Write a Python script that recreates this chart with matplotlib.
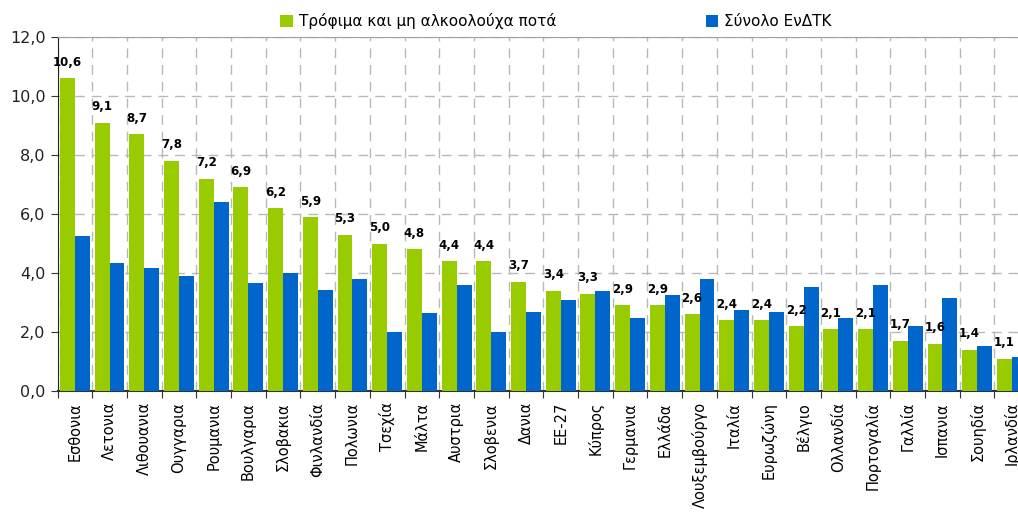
import numpy as np
import matplotlib
matplotlib.use("Agg")
import matplotlib.pyplot as plt

# κατηγορίες (χώρες) και τιμές των δύο σειρών
xores = ["Εσθονια", "Λετονια", "Λιθουανια", "Ουγγαρια", "Ρουμανια", "Βουλγαρια",
         "Σλοβακια", "Φινλανδία", "Πολωνια", "Τσεχία", "Μάλτα", "Αυστρια",
         "Σλοβενια", "Δανια", "ΕΕ-27", "Κύπρος", "Γερμανια", "Ελλάδα",
         "Λουξεμβούργο", "Ιταλία", "Ευρωζώνη", "Βέλγιο", "Ολλανδία",
         "Πορτογαλία", "Γαλλία", "Ισπανια", "Σουηδία", "Ιρλανδία"]
trofima = [10.6, 9.1, 8.7, 7.8, 7.2, 6.9, 6.2, 5.9, 5.3, 5.0, 4.8, 4.4, 4.4, 3.7,
           3.4, 3.3, 2.9, 2.9, 2.6, 2.4, 2.4, 2.2, 2.1, 2.1, 1.7, 1.6, 1.4, 1.1]
synolo = [5.25, 4.34, 4.17, 3.89, 6.39, 3.65, 4.0, 3.41, 3.79, 2.0, 2.66, 3.59,
          2.0, 2.69, 3.1, 3.38, 2.49, 3.24, 3.79, 2.76, 2.69, 3.52, 2.49, 3.59,
          2.22, 3.14, 1.53, 1.15]
yticks = [0, 2, 4, 6, 8, 10, 12]

green = "#99CC00"
blue = "#0066CC"

fig = plt.figure(figsize=(10.18, 5.14), dpi=100)
# ο άξονας ξεπερνά λίγο το δεξί άκρο, όπως στο πρωτότυπο
ax = fig.add_axes([0.0565, 0.2393, 0.9545, 0.6887])

x = np.arange(len(xores)) + 0.5
w = 0.43
ax.bar(x - w / 2, trofima, w, color=green, label="Τρόφιμα και μη αλκοολούχα ποτά", zorder=3)
ax.bar(x + w / 2, synolo, w, color=blue, label="Σύνολο ΕνΔΤΚ", zorder=3)

# ετικέτες τιμών πάνω από τις πράσινες μπάρες
for xi, v in zip(x, trofima):
    ax.text(xi - w / 2, v + 0.32, f"{v:.1f}".replace(".", ","), ha="center", va="bottom",
            fontsize=8.5, fontweight="bold", color="black")

ax.set_xlim(0, len(xores))
ax.set_ylim(0, 12)
ax.set_yticks(yticks)
ax.set_yticklabels([f"{t:.1f}".replace(".", ",") for t in yticks], fontsize=11.5, color="#222222")

ax.set_xticks(np.arange(len(xores) + 1))
ax.set_xticklabels([])
ax.set_xticks(x, minor=True)
ax.set_xticklabels(xores, minor=True, rotation=90, fontsize=10.5, va="top", ha="center")
ax.tick_params(axis="x", which="minor", length=0, pad=8)
ax.tick_params(axis="x", which="major", length=5, color="#333333")
ax.tick_params(axis="y", length=5, color="#333333")

ax.grid(True, axis="both", which="major", color="#b8b8b8", linestyle=(0, (7, 5)), linewidth=1, zorder=0)

ax.spines["top"].set_color("#a0a0a0")
ax.spines["right"].set_visible(False)
ax.spines["left"].set_color("#222222")
ax.spines["bottom"].set_color("#333333")
ax.spines["bottom"].set_linewidth(1.5)

ax.legend(loc="lower center", bbox_to_anchor=(0.513, 1.0), ncol=2, frameon=False,
          fontsize=11, handlelength=0.8, handleheight=0.8, handletextpad=0.4,
          columnspacing=9.8, borderaxespad=0.1)

fig.savefig("out.png", dpi=100)
